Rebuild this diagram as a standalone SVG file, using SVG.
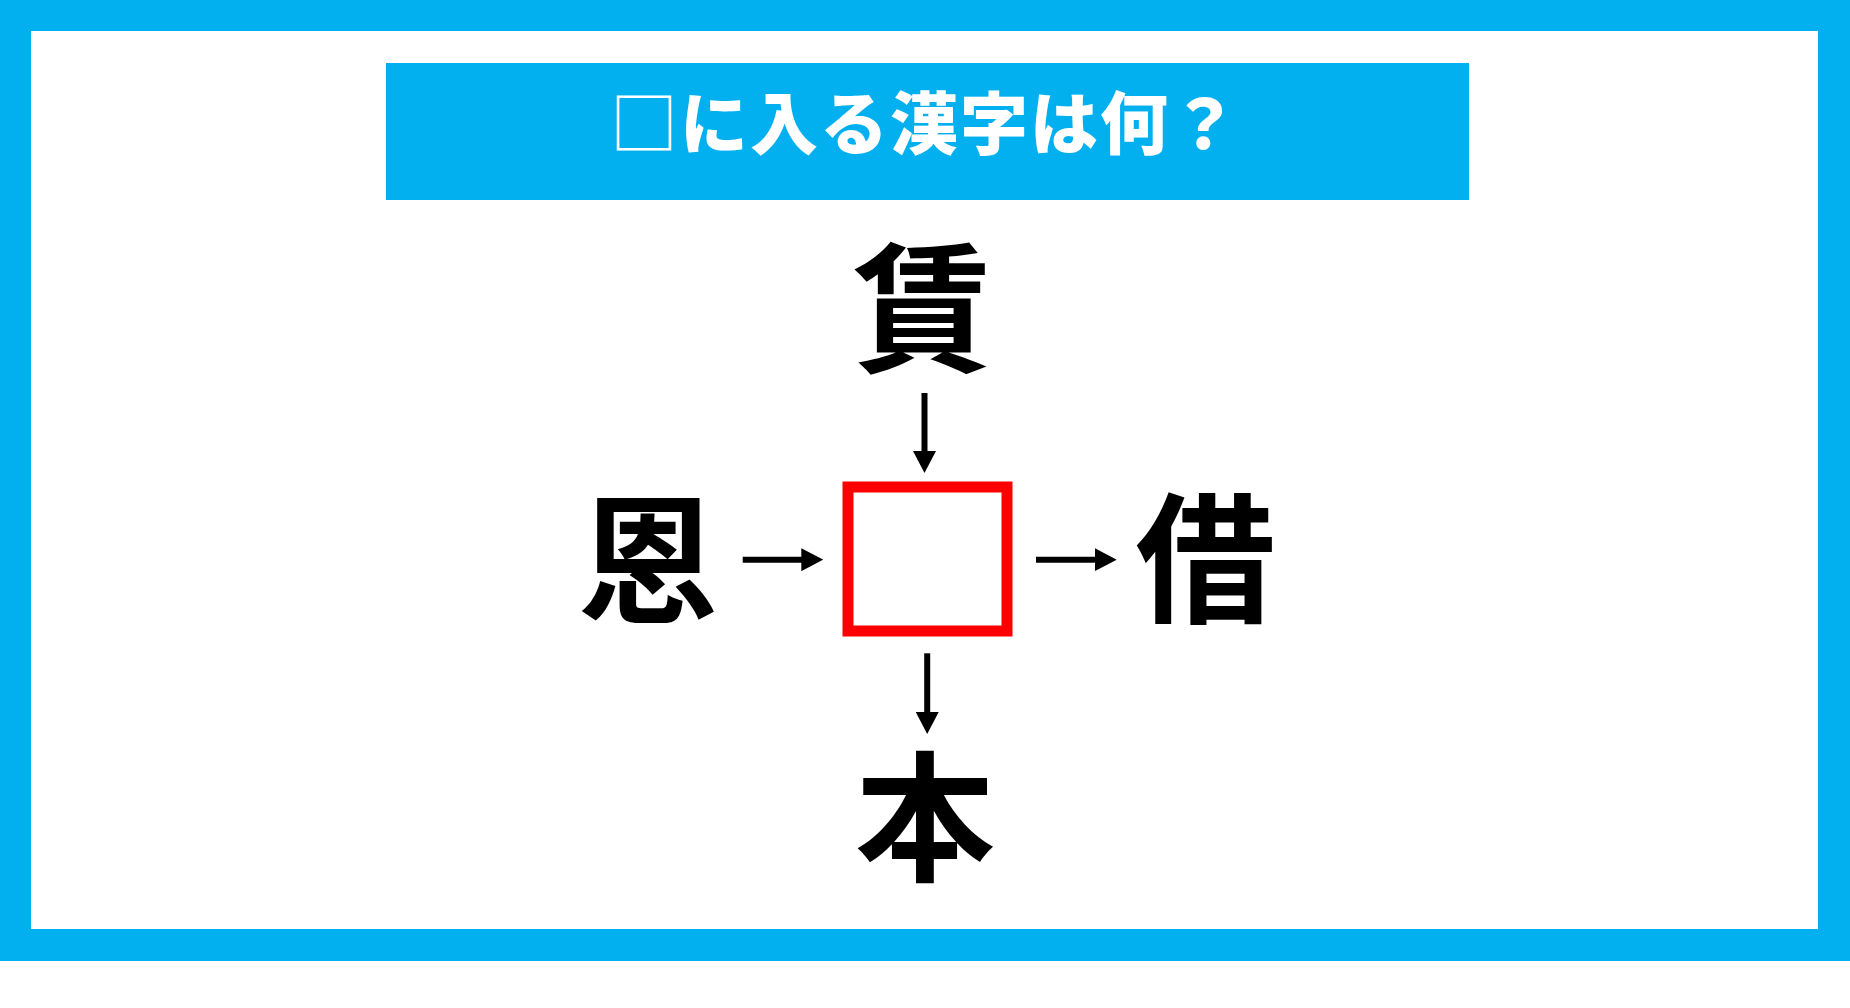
<svg xmlns="http://www.w3.org/2000/svg" width="1850" height="1008" viewBox="0 0 1850 1008">
  <style>
    .kanji { font-family: "Noto Sans CJK JP", "Noto Sans CJK SC", sans-serif; font-weight: 700; font-size: 140px; fill: #000000; text-anchor: middle; }
    .title { font-family: "Noto Sans CJK JP", "Noto Sans CJK SC", sans-serif; font-weight: 900; font-size: 68px; fill: #ffffff; letter-spacing: 2px; }
    .conn { stroke: #000000; stroke-width: 6; fill: none; }
  </style>
  <defs>
    <marker id="arrow" viewBox="0 0 22 23" markerWidth="22" markerHeight="23" refX="2" refY="11.5" orient="auto" markerUnits="userSpaceOnUse">
      <path d="M0,0 L22,11.5 L0,23 z" fill="#000000"/>
    </marker>
  </defs>
  <rect x="0" y="0" width="1850" height="1008" fill="#ffffff"/>
  <g id="frame">
    <rect x="0" y="0" width="1850" height="961" fill="#02b0f0"/>
    <rect x="31" y="31" width="1787" height="898" fill="#ffffff"/>
  </g>
  <g id="title">
    <rect x="386" y="63" width="1083" height="137" fill="#02b0f0"/>
    <text class="title" x="610" y="149"><tspan font-weight="400">□</tspan>に入る漢字は何？</text>
  </g>
  <g id="connectors">
    <line class="conn" x1="924.5" y1="393" x2="924.5" y2="453" marker-end="url(#arrow)"/>
    <line class="conn" x1="742.7" y1="559.7" x2="803.3" y2="559.7" marker-end="url(#arrow)"/>
    <line class="conn" x1="1036" y1="559.7" x2="1096.7" y2="559.7" marker-end="url(#arrow)"/>
    <line class="conn" x1="927.2" y1="653.3" x2="927.2" y2="714" marker-end="url(#arrow)"/>
  </g>
  <g id="node-top">
    <text class="kanji" x="922.5" y="361">賃</text>
  </g>
  <g id="node-left">
    <text class="kanji" x="648" y="612">恩</text>
  </g>
  <g id="node-center">
    <rect x="848" y="487" width="159" height="144" fill="none" stroke="#ff0000" stroke-width="11"/>
  </g>
  <g id="node-right">
    <text class="kanji" x="1205.5" y="611">借</text>
  </g>
  <g id="node-bottom">
    <text class="kanji" x="925" y="870">本</text>
  </g>
</svg>
